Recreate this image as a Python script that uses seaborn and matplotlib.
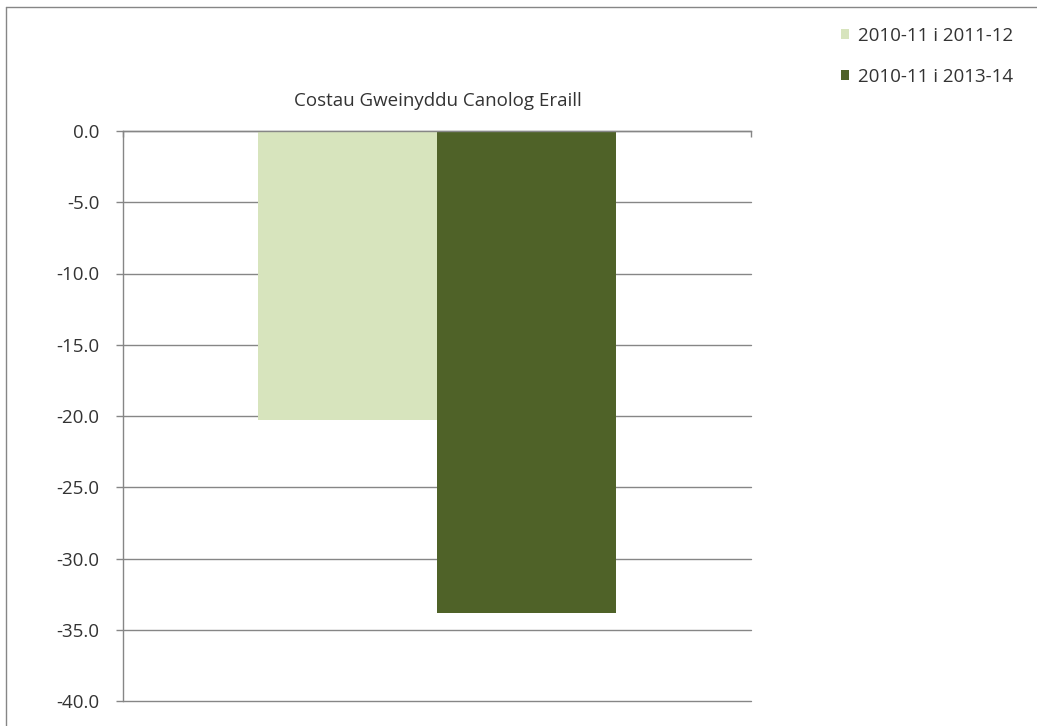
import pandas as pd
import seaborn as sns
import matplotlib.pyplot as plt
from matplotlib.patches import Patch
from matplotlib.lines import Line2D

category = 'Costau Gweinyddu Canolog Eraill'
periods = ['2010-11 i 2011-12', '2010-11 i 2013-14']
values = [-20.3, -33.8]
colours = ['#D7E4BD', '#4F6228']
yticks = [0, -5, -10, -15, -20, -25, -30, -35, -40]

df = pd.DataFrame({'category': [category] * len(periods),
                   'period': periods,
                   'value': values})

sns.set_style('white')
plt.rcParams['font.family'] = ['Open Sans', 'DejaVu Sans']
plt.rcParams['font.size'] = 13.5

fig = plt.figure(figsize=(10.37, 7.26), dpi=100)
ax = fig.add_axes([123 / 1037, 1 - 701 / 726, 628 / 1037, 570 / 726])

sns.barplot(data=df, x='category', y='value', hue='period', palette=colours,
            width=0.57, saturation=1, linewidth=0, legend=False, ax=ax)

grey = '#868686'
ax.set_ylim(-40, 0)
ax.set_xlim(-0.5, 0.5)
ax.set_yticks(yticks)
ax.set_yticklabels(['{:.1f}'.format(v) for v in yticks], color='#333333')
ax.yaxis.grid(True, color=grey, linewidth=1)
for gl in ax.get_ygridlines():
    gl.set_clip_on(False)
ax.set_axisbelow(True)
ax.tick_params(axis='y', length=5, width=1, color=grey, pad=12, left=True,
               labelsize=13.5)

# category axis sits on top at 0 with boundary ticks
ax.xaxis.tick_top()
ax.set_xticks([-0.5, 0.5])
ax.set_xticklabels([])
ax.tick_params(axis='x', direction='in', length=4.5, width=1, color=grey, top=True)
ax.set_xlabel('')
ax.set_ylabel('')

for side in ['right', 'bottom']:
    ax.spines[side].set_visible(False)
for side in ['left', 'top']:
    ax.spines[side].set_color(grey)
    ax.spines[side].set_linewidth(1)

fig.text(438 / 1037, 1 - 101 / 726, category, ha='center', va='center',
         fontsize=13.5, color='#333333')

handles = [Patch(facecolor=c, edgecolor='none') for c in colours]
fig.legend(handles, periods, loc='upper left',
           bbox_to_anchor=(841 / 1037, 1 - 27 / 726), frameon=False,
           fontsize=13.5, handlelength=0.45, handleheight=0.45, handletextpad=0.45,
           labelspacing=1.2, borderpad=0, borderaxespad=0, labelcolor='#333333')

# outer chart frame (cropped at right and bottom)
fig.add_artist(Line2D([6 / 1037, 6 / 1037], [0, 1 - 7 / 726], color=grey,
                      linewidth=1, transform=fig.transFigure))
fig.add_artist(Line2D([6 / 1037, 1], [1 - 7 / 726, 1 - 7 / 726], color=grey,
                      linewidth=1, transform=fig.transFigure))

plt.savefig('out.png', dpi=100)
plt.close()
